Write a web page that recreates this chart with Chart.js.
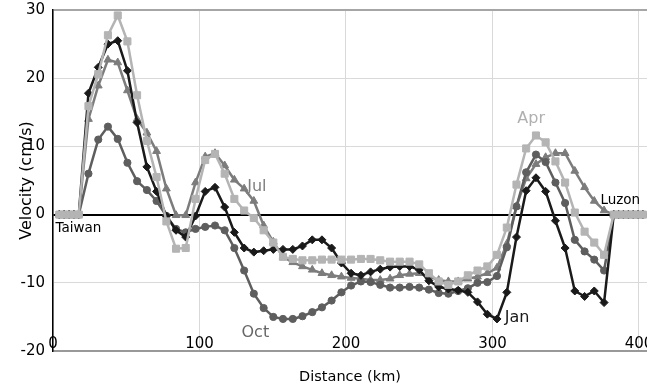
<!DOCTYPE html>
<html>
<head>
<meta charset="utf-8" />
<title>Velocity section Taiwan - Luzon</title>
<script src="https://cdn.jsdelivr.net/npm/chart.js@4"></script>
<style>
  html, body { margin: 0; padding: 0; background: #fff; }
</style>
</head>
<body>
<canvas id="myChart" width="647" height="388"></canvas>

<script>
// distance along the section (km)
const distance = [4.3, 7.6, 11.0, 14.3,
  17.6, 24.2, 30.9, 37.5, 44.2, 50.8, 57.4, 64.1, 70.7, 77.4,
  84.0, 90.6, 97.3, 103.9, 110.6, 117.2, 123.8, 130.5, 137.1, 143.8,
  150.4, 157.0, 163.7, 170.3, 177.0, 183.6, 190.2, 196.9, 203.5, 210.2,
  216.8, 223.4, 230.1, 236.7, 243.4, 250.0, 256.6, 263.3, 269.9, 276.6,
  283.2, 289.8, 296.5, 303.1, 309.8, 316.4, 323.0, 329.7, 336.3, 343.0,
  349.6, 356.2, 362.9, 369.5, 376.2, 382.8,
  386.1, 389.4, 392.8, 396.1, 399.4, 402.7];

// velocity (cm/s) per month
const jan = [0, 0, 0, 0,
  0, 17.8, 21.6, 25.0, 25.5, 21.1, 13.5, 7.0, 3.4, -0.2,
  -2.3, -3.3, -0.2, 3.4, 4.0, 1.1, -2.6, -4.9, -5.5, -5.3,
  -5.1, -5.1, -5.1, -4.6, -3.7, -3.7, -4.9, -7.1, -8.6, -8.9,
  -8.4, -8.0, -7.7, -7.6, -7.6, -8.1, -9.7, -10.6, -10.9, -11.1,
  -11.4, -12.8, -14.6, -15.3, -11.4, -3.3, 3.5, 5.4, 3.4, -0.9,
  -4.9, -11.2, -12.0, -11.2, -12.9, 0,
  0, 0, 0, 0, 0, 0];

const apr = [0, 0, 0, 0,
  0, 15.9, 20.6, 26.3, 29.2, 25.4, 17.5, 10.8, 5.5, -1.0,
  -5.0, -4.9, 2.3, 8.0, 8.9, 6.0, 2.3, 0.6, -0.5, -2.3,
  -4.1, -6.2, -6.5, -6.7, -6.7, -6.6, -6.6, -6.6, -6.6, -6.5,
  -6.5, -6.7, -6.9, -6.9, -6.9, -7.3, -8.6, -9.8, -10.3, -9.8,
  -8.9, -8.2, -7.6, -5.9, -1.9, 4.4, 9.7, 11.6, 10.6, 7.8,
  4.7, 0.3, -2.5, -4.1, -5.9, 0,
  0, 0, 0, 0, 0, 0];

const jul = [0, 0, 0, 0,
  0, 14.0, 18.9, 22.7, 22.3, 18.2, 14.0, 12.0, 9.3, 3.8,
  -0.1, -0.1, 4.7, 8.5, 9.0, 7.2, 5.1, 3.8, 2.0, -1.6,
  -4.0, -6.2, -7.0, -7.6, -8.1, -8.6, -8.9, -9.1, -9.3, -9.4,
  -9.6, -9.6, -9.4, -8.9, -8.7, -8.6, -9.1, -9.6, -9.8, -9.8,
  -9.4, -9.1, -8.6, -7.8, -4.3, 1.2, 5.3, 7.4, 8.4, 9.0,
  9.0, 6.4, 4.0, 2.0, 0.6, 0,
  0, 0, 0, 0, 0, 0];

const oct = [0, 0, 0, 0,
  0, 6.0, 11.0, 12.9, 11.1, 7.6, 4.9, 3.6, 2.0, -0.2,
  -2.1, -2.6, -2.1, -1.8, -1.6, -2.3, -4.9, -8.2, -11.6, -13.7,
  -15.0, -15.3, -15.3, -14.9, -14.3, -13.6, -12.6, -11.4, -10.4, -9.8,
  -9.9, -10.3, -10.7, -10.7, -10.6, -10.7, -11.0, -11.5, -11.6, -11.2,
  -10.8, -10.0, -9.9, -9.0, -4.8, 1.2, 6.2, 8.8, 7.7, 4.7,
  1.7, -3.7, -5.4, -6.6, -8.2, 0,
  0, 0, 0, 0, 0, 0];

const xTicks = [0, 100, 200, 300, 400];
const yTicks = [-20, -10, 0, 10, 20, 30];
const xMin = 0, xMax = 405.5;
const yMin = -20, yMax = 30;

// text written inside the plot: [text, km, cm/s, size, colour]
const notes = [
  ['Taiwan', 1.7, -2.0, 13.5, '#000000'],
  ['Luzon', 373.7, 2.0, 13.5, '#000000'],
  ['Apr', 317.0, 14.1, 16, '#b0b0b0'],
  ['Jul', 132.6, 4.1, 16, '#7f7f7f'],
  ['Oct', 128.7, -17.4, 16, '#666666'],
  ['Jan', 308.4, -15.2, 16, '#1a1a1a']
];

function points(values) {
  return distance.map((d, i) => ({ x: d, y: values[i] }));
}

function serie(label, values, color, style, radius) {
  return {
    label: label,
    data: points(values),
    borderColor: color,
    backgroundColor: color,
    borderWidth: 2.5,
    pointStyle: style,
    pointRadius: radius,
    pointBorderWidth: 1,
    pointBackgroundColor: color,
    pointBorderColor: color,
    tension: 0
  };
}

const notesPlugin = {
  id: 'notes',
  afterDatasetsDraw(chart) {
    const ctx = chart.ctx;
    const xs = chart.scales.x, ys = chart.scales.y;
    ctx.save();
    ctx.textAlign = 'left';
    ctx.textBaseline = 'middle';
    notes.forEach(n => {
      ctx.font = n[3] + 'px "DejaVu Sans"';
      ctx.fillStyle = n[4];
      ctx.fillText(n[0], xs.getPixelForValue(n[1]), ys.getPixelForValue(n[2]));
    });
    ctx.restore();
  }
};

Chart.defaults.font.family = '"DejaVu Sans", sans-serif';
Chart.defaults.color = '#000';

const config = {
  type: 'line',
  data: {
    datasets: [
      serie('Apr', apr, '#b4b4b4', 'rect', 5),
      serie('Jan', jan, '#1a1a1a', 'rectRot', 4),
      serie('Oct', oct, '#5e5e5e', 'circle', 3.6),
      serie('Jul', jul, '#7c7c7c', 'triangle', 4.5)
    ]
  },
  options: {
    responsive: false,
    animation: false,
    layout: { autoPadding: false, padding: { top: 10, right: 0, bottom: 0, left: 0 } },
    plugins: {
      legend: { display: false },
      tooltip: { enabled: false }
    },
    scales: {
      x: {
        type: 'linear',
        min: xMin,
        max: xMax,
        border: { color: '#999999', width: 1.5 },
        grid: { color: '#d9d9d9', lineWidth: 1, drawTicks: false },
        ticks: { mirror: true, padding: -2, font: { size: 15 }, color: '#000' },
        afterBuildTicks: s => { s.ticks = xTicks.map(v => ({ value: v })); },
        title: { display: true, text: 'Distance (km)', font: { size: 14.5 },
                 padding: { top: 0, bottom: 2 }, color: '#000' },
        afterFit: s => { s.height = 37; s.paddingLeft = 0; s.paddingRight = 0; }
      },
      y: {
        min: yMin,
        max: yMax,
        border: { color: '#000000', width: 1.5 },
        grid: {
          drawTicks: false,
          color: c => c.tick.value === 0 ? '#000000' : (c.tick.value === yMax ? '#a6a6a6' : (c.tick.value === yMin ? '#999999' : '#d9d9d9')),
          lineWidth: c => (c.tick.value === 0 || c.tick.value === yMax) ? 2 : 1
        },
        ticks: { padding: 8, font: { size: 15 }, color: '#000' },
        afterBuildTicks: s => { s.ticks = yTicks.map(v => ({ value: v })); },
        title: { display: true, text: 'Velocity (cm/s)', font: { size: 16 },
                 padding: { top: 17.4, bottom: 0 }, color: '#000' },
        afterFit: s => { s.width = 53; s.paddingTop = 0; s.paddingBottom = 0; }
      }
    }
  },
  plugins: [notesPlugin]
};

new Chart(document.getElementById('myChart'), config);
</script>
</body>
</html>
